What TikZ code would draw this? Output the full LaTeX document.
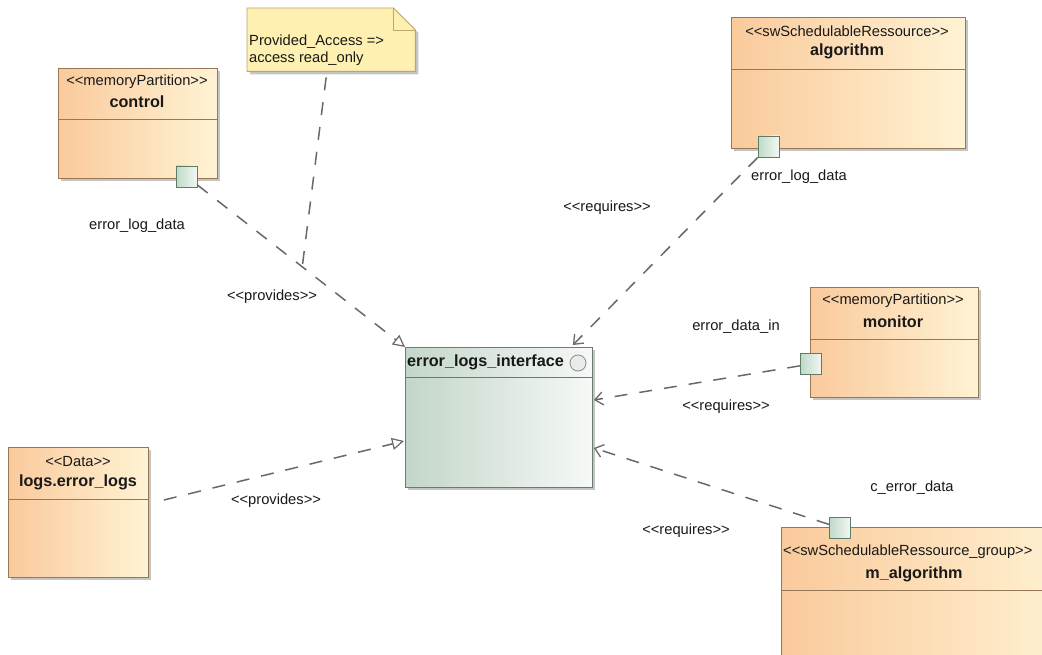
\documentclass[tikz,border=0pt]{standalone}
\usepackage{fontspec}
\setmainfont{Liberation Sans}
\usetikzlibrary{arrows.meta,calc,shadows}

\definecolor{boxL}{RGB}{250,202,156}
\definecolor{boxR}{RGB}{255,243,212}
\definecolor{boxEdge}{RGB}{150,120,85}
\definecolor{ifL}{RGB}{196,214,201}
\definecolor{ifR}{RGB}{246,249,247}
\definecolor{ifEdge}{RGB}{105,125,108}
\definecolor{portL}{RGB}{192,218,200}
\definecolor{portR}{RGB}{242,247,244}
\definecolor{portEdge}{RGB}{95,125,100}
\definecolor{noteFill}{RGB}{254,240,176}
\definecolor{noteEdge}{RGB}{190,165,105}
\definecolor{lineGray}{RGB}{105,105,105}
\definecolor{txt}{RGB}{25,25,25}

\newcommand{\stereo}[1]{<{}<#1>{}>}

\begin{document}
\begin{tikzpicture}[x=1pt,y=-1pt,
  every node/.style={text=txt, font=\fontsize{14.7}{16}\selectfont},
  namefont/.style={font=\bfseries\fontsize{16.2}{18}\selectfont},
  shadowed/.style={general shadow={fill=black!45, shadow xshift=3pt, shadow yshift=-3pt, opacity=0.5}},
  umlbox/.style={rectangle, draw=boxEdge, line width=0.9pt, left color=boxL, right color=boxR, anchor=north west, inner sep=0pt, shadowed},
  ifbox/.style={rectangle, draw=ifEdge, line width=0.9pt, left color=ifL, right color=ifR, anchor=north west, inner sep=0pt, shadowed},
  port/.style={rectangle, draw=portEdge, line width=0.8pt, left color=portL, right color=portR, minimum size=21pt, inner sep=0pt},
  conn/.style={draw=lineGray, line width=1.5pt, dash pattern=on 13pt off 12pt},
  provides/.style={conn, -{Triangle[open, length=12pt, width=12pt, fill=white, line width=1.2pt]}},
  requires/.style={conn, -{Straight Barb[length=8pt, width=13pt, line width=1.3pt]}},
  divider/.style={draw=boxEdge, line width=0.9pt},
  ifdivider/.style={draw=ifEdge, line width=0.9pt},
]
\useasboundingbox (0,0) rectangle (1042,655);
\fill[white] (0,0) rectangle (1042,655);

% ---------- note ----------
\node[anchor=north west, minimum width=168pt, minimum height=63pt, inner sep=0pt] (note) at (247,8) {};
\fill[black!45, opacity=0.5] ($(note.north west)+(3,3)$) -- ($(note.north east)+(-19,3)$) -- ($(note.north east)+(3,25)$) -- ($(note.south east)+(3,3)$) -- ($(note.south west)+(3,3)$) -- cycle;
\draw[noteEdge, fill=noteFill, line width=0.9pt] (note.north west) -- ($(note.north east)+(-22,0)$) -- ($(note.north east)+(0,22)$) -- (note.south east) -- (note.south west) -- cycle;
\draw[noteEdge, line width=0.9pt] ($(note.north east)+(-22,0)$) -- ($(note.north east)+(-22,22)$) -- ($(note.north east)+(0,22)$);
\node[anchor=north west, align=left, inner sep=0pt, font=\fontsize{14.7}{17}\selectfont] (notetext) at (249,35) {Provided\_Access =>\\access read\_only};

% ---------- control ----------
\node[umlbox, minimum width=159pt, minimum height=110pt] (ctrl) at (58,68) {};
\draw[divider] (ctrl.west |- 0,119) -- (ctrl.east |- 0,119);
\node (ctrlS) at (137,82) {\stereo{memoryPartition}};
\node[namefont] (ctrlN) at (137,102) {control};
\node[port] (ctrlport) at (186.5,176.5) {};

% ---------- algorithm ----------
\node[umlbox, minimum width=234pt, minimum height=131pt] (alg) at (731,17) {};
\draw[divider] (alg.west |- 0,69) -- (alg.east |- 0,69);
\node (algS) at (847,31) {\stereo{swSchedulableRessource}};
\node[namefont] (algN) at (847,51) {algorithm};
\node[port] (algport) at (768.5,146.5) {};

% ---------- monitor ----------
\node[umlbox, minimum width=168pt, minimum height=110pt] (mon) at (810,287) {};
\draw[divider] (mon.west |- 0,339) -- (mon.east |- 0,339);
\node (monS) at (893,301) {\stereo{memoryPartition}};
\node[namefont] (monN) at (893,322) {monitor};
\node[port] (monport) at (811,364) {};

% ---------- m_algorithm ----------
\node[umlbox, minimum width=300pt, minimum height=150pt] (malg) at (781,527) {};
\draw[divider] (malg.west |- 0,590) -- (malg.east |- 0,590);
\node[anchor=west, inner sep=0pt] (malgS) at (783,552) {\stereo{swSchedulableRessource\_group}};
\node[namefont] (malgN) at (914,574) {m\_algorithm};
\node[port] (malgport) at (840,528) {};

% ---------- logs.error_logs ----------
\node[umlbox, minimum width=140pt, minimum height=130pt] (logs) at (8,447) {};
\draw[divider] (logs.west |- 0,499) -- (logs.east |- 0,499);
\node (logsS) at (78,462) {\stereo{Data}};
\node[namefont] (logsN) at (78,482) {logs.error\_logs};

% ---------- interface ----------
\node[ifbox, minimum width=187pt, minimum height=140pt] (iface) at (405,347) {};
\draw[ifdivider] (iface.west |- 0,377) -- (iface.east |- 0,377);
\node[namefont, anchor=west, inner sep=0pt] (ifaceN) at (407,362) {error\_logs\_interface};
\node[circle, draw=black!45, line width=0.8pt, fill=white!92!black, minimum size=16pt, inner sep=0pt] (ifcirc) at (578,363) {};

% ---------- connectors ----------
\draw[provides] (ctrlport) -- coordinate[pos=0.505] (junc) (iface.north west);
\draw[conn] ($(note.south west)!0.47!(note.south east)+(0,6)$) -- (junc);
\draw[requires] (algport) -- ($(iface.north east)+(-20,-2)$);
\draw[requires] (monport) -- ($(iface.north east)+(1,53)$);
\draw[requires] (malgport) -- ($(iface.north east)+(1,101)$);
\coordinate (logsrc) at ($(logs.north east)+(15,53)$);
\draw[provides] (logsrc) -- ($(iface.north west)+(-1,94)$);

% ---------- labels ----------
\node (l1) at (137,226) {error\_log\_data};
\node (l2) at (272,297) {\stereo{provides}};
\node (l3) at (607,208) {\stereo{requires}};
\node (l4) at (799,177) {error\_log\_data};
\node (l5) at (736,327) {error\_data\_in};
\node (l6) at (726,407) {\stereo{requires}};
\node (l7) at (912,488) {c\_error\_data};
\node (l8) at (686,531) {\stereo{requires}};
\node (l9) at (276,501) {\stereo{provides}};
\end{tikzpicture}
\end{document}
